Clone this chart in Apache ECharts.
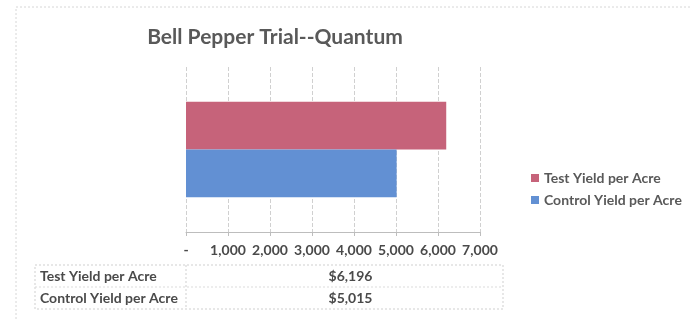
<!DOCTYPE html>
<html>
<head>
<meta charset="utf-8">
<script src="https://cdn.jsdelivr.net/npm/echarts@6/dist/echarts.min.js"></script>
<style>
  html, body { margin: 0; padding: 0; background: #fff; }
  #chart { width: 692px; height: 320px; }
</style>
</head>
<body>
<div id="chart"></div>
<script>
// 数据
var seriesNames = ['Test Yield per Acre', 'Control Yield per Acre'];
var testYield = [6196];
var controlYield = [5015];
var categories = ['Quantum'];
var xTicks = [0, 1000, 2000, 3000, 4000, 5000, 6000, 7000];

var labelFont = 'Lato, "Open Sans", sans-serif';

function fmtTick(v) {
    if (v === 0) return '-';
    return v.toLocaleString('en-US');
}

// 数据表（图表下方）
var tableRows = [
    { name: seriesNames[0], value: testYield[0] },
    { name: seriesNames[1], value: controlYield[0] }
];
var tableGraphic = [];
var tLeft = 35, tTop = 265, rowH = 22, colSplit = 186, tRight = 503;
tableGraphic.push({
    type: 'rect',
    shape: { x: tLeft, y: tTop, width: tRight - tLeft, height: rowH * tableRows.length },
    style: { fill: 'none', stroke: '#cfcfcf', lineWidth: 1, lineDash: [2, 2] }
});
tableGraphic.push({
    type: 'line',
    shape: { x1: colSplit, y1: tTop, x2: colSplit, y2: tTop + rowH * tableRows.length },
    style: { stroke: '#cfcfcf', lineWidth: 1, lineDash: [2, 2] }
});
tableGraphic.push({
    type: 'line',
    shape: { x1: tLeft, y1: tTop + rowH, x2: tRight, y2: tTop + rowH },
    style: { stroke: '#dcdcdc', lineWidth: 1, lineDash: [2, 2] }
});
tableRows.forEach(function (r, i) {
    tableGraphic.push({
        type: 'text',
        x: tLeft + 5, y: tTop + rowH * i + rowH / 2,
        style: {
            text: r.name, font: 'bold 14px ' + labelFont, fill: '#4a4a4a',
            textVerticalAlign: 'middle', textAlign: 'left'
        }
    });
    tableGraphic.push({
        type: 'text',
        x: (colSplit + tRight) / 2 + 6, y: tTop + rowH * i + rowH / 2,
        style: {
            text: '$' + r.value.toLocaleString('en-US'), font: 'bold 14px ' + labelFont, fill: '#4a4a4a',
            textVerticalAlign: 'middle', textAlign: 'center'
        }
    });
});
// 外框
tableGraphic.push({
    type: 'rect',
    shape: { x: 16, y: 7, width: 700, height: 340 },
    style: { fill: 'none', stroke: '#d6d6d6', lineWidth: 1, lineDash: [2, 2] }
});

var chart = echarts.init(document.getElementById('chart'));
var option = {
    backgroundColor: '#fff',
    animation: false,
    title: {
        text: 'Bell Pepper Trial--Quantum',
        left: 270,
        textAlign: 'center',
        top: 22,
        textStyle: { fontFamily: labelFont, fontSize: 21, fontWeight: 'bold', color: '#595959' }
    },
    legend: {
        orient: 'vertical',
        left: 526,
        top: 166,
        itemWidth: 8,
        itemHeight: 8,
        itemGap: 8,
        icon: 'rect',
        data: seriesNames,
        textStyle: { fontFamily: labelFont, fontSize: 14, fontWeight: 'bold', color: '#595959' }
    },
    grid: { left: 186, right: 212, top: 67, bottom: 88 },
    xAxis: {
        type: 'value',
        min: xTicks[0],
        max: xTicks[xTicks.length - 1],
        interval: 1000,
        axisLine: { show: true, lineStyle: { color: '#bdbdbd' } },
        axisTick: { show: true, length: 4, lineStyle: { color: '#bdbdbd' } },
        splitLine: { show: true, lineStyle: { color: '#d0d0d0', type: 'dashed' } },
        axisLabel: {
            formatter: fmtTick,
            margin: 11,
            fontFamily: labelFont, fontSize: 14, fontWeight: 'bold', color: '#4a4a4a'
        }
    },
    yAxis: {
        type: 'category',
        data: categories,
        axisLine: { show: false },
        axisTick: { show: false },
        axisLabel: { show: false }
    },
    series: [
        {
            name: seriesNames[0],
            type: 'bar',
            data: testYield,
            barGap: '0%',
            barCategoryGap: '42%',
            itemStyle: { color: '#c6637a' }
        },
        {
            name: seriesNames[1],
            type: 'bar',
            data: controlYield,
            barGap: '0%',
            barCategoryGap: '42%',
            itemStyle: { color: '#6290d3' }
        }
    ],
    graphic: tableGraphic
};
chart.setOption(option);
</script>
</body>
</html>
